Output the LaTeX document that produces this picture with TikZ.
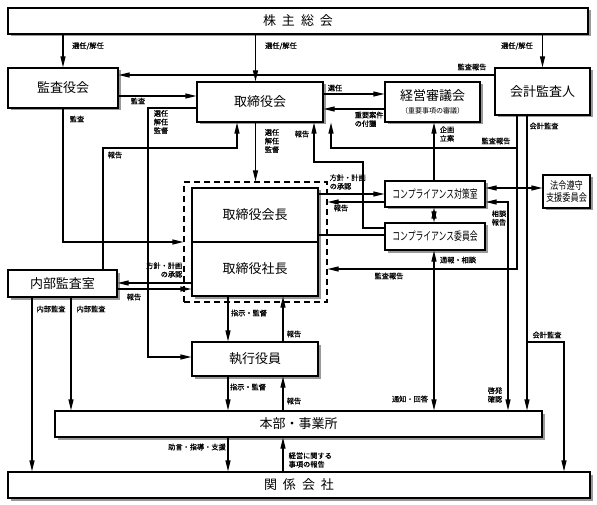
\documentclass[tikz,border=0pt]{standalone}
\usepackage{fontspec}
\setmainfont{Noto Sans CJK JP}
\newfontfamily\narrowjp[FakeStretch=0.68]{Noto Sans CJK JP}
\newfontfamily\narrowjpb[FakeStretch=0.78]{Noto Sans CJK JP}
\newfontfamily\lbljp[FakeBold=0.6]{Noto Sans CJK JP}
\usetikzlibrary{arrows.meta,shadows}

\tikzset{
  box/.style={draw, line width=1.1pt, fill=white, inner sep=0pt, align=center,
    font=\fontsize{13}{15}\selectfont,
    drop shadow={shadow xshift=2.5pt, shadow yshift=-2.5pt, fill=black!40, opacity=1}},
  lbl/.style={font=\lbljp\fontsize{7.2}{8.6}\selectfont, inner sep=0.5pt, align=center},
  conn/.style={line width=1.1pt},
  arr/.style={conn, -{Triangle[length=11pt,width=5pt]}},
  darr/.style={conn, {Triangle[length=11pt,width=5pt]}-{Triangle[length=11pt,width=5pt]}},
}

\begin{document}
\begin{tikzpicture}[x=1pt, y=-1pt]
\useasboundingbox (0,0) rectangle (597,505);

\node [draw, line width=1.1pt, dash pattern=on 6pt off 4pt, minimum width=143pt, minimum height=120pt] (tops) at (255.5,242) {};

\node [box, minimum width=580pt, minimum height=26pt] (kabu) at (298,21) {株\hspace{6pt}主\hspace{6pt}総\hspace{6pt}会};
\node [box, minimum width=110pt, minimum height=40pt] (kansa) at (63,88) {監査役会};
\node [box, minimum width=126pt, minimum height=40pt] (torikai) at (260,102) {取締役会};
\node [box, minimum width=95pt, minimum height=40pt] (shingi) at (432.5,102) {経営審議会\\[-2pt]{\fontsize{7}{8}\selectfont （重要事項の審議）}};
\node [box, minimum width=95pt, minimum height=47pt] (kaikei) at (542.5,91.5) {会計監査人};
\node [box, minimum width=126pt, minimum height=54pt] (kaicho) at (255,215) {取締役会長};
\node [box, minimum width=126pt, minimum height=54pt] (shacho) at (255,269) {取締役社長};
\node [box, font=\narrowjp\fontsize{11.5}{13}\selectfont, minimum width=100pt, minimum height=26pt] (taisaku) at (435,194) {コンプライアンス対策室};
\node [box, font=\narrowjp\fontsize{11.5}{13}\selectfont, minimum width=100pt, minimum height=27pt] (iinkai) at (435,236.5) {コンプライアンス委員会};
\node [box, font=\narrowjpb\fontsize{10.5}{12.5}\selectfont, minimum width=47pt, minimum height=33pt] (hourei) at (566.5,191.5) {法令遵守\\支援委員会};
\node [box, minimum width=109pt, minimum height=27pt] (naibu) at (62.5,283.5) {内部監査室};
\node [box, minimum width=126pt, minimum height=34pt] (shikkou) at (255,359) {執行役員};
\node [box, minimum width=487pt, minimum height=26pt] (honbu) at (298.5,424) {本部・事業所};
\node [box, minimum width=582pt, minimum height=26pt] (kankei) at (299,485) {関\hspace{6pt}係\hspace{6pt}会\hspace{6pt}社};

\coordinate (b2) at (0,75);
\coordinate (b3) at (0,96);
\coordinate (b4) at (0,94);
\coordinate (b5) at (0,109);
\coordinate (b6) at (148,108);
\coordinate (b7) at (148,357);
\coordinate (b8) at (103,148);
\coordinate (b9) at (237,148);
\coordinate (b10) at (363,228);
\coordinate (b11) at (363,162);
\coordinate (b12) at (314,162);
\coordinate (b13) at (517,148);
\coordinate (b14) at (331,148);
\coordinate (b15) at (517,269);
\coordinate (b16) at (527,342);
\coordinate (b17) at (564,342);
\coordinate (b18) at (434,0);
\coordinate (b19) at (0,202);
\coordinate (b20) at (0,235);
\coordinate (b21) at (0,188);
\coordinate (b22) at (508,202);
\coordinate (b23) at (0,283);
\coordinate (b24) at (0,289);
\coordinate (b25) at (32,0);
\coordinate (b26) at (71,0);
\coordinate (b27) at (228,0);
\coordinate (b28) at (283,0);

\draw [arr] (kabu.south -| kansa.north) -- (kansa.north);
\draw [arr] (kabu.south -| tops.north) -- (torikai.north -| tops.north);
\draw [arr] (kabu.south -| kaikei.north) -- (kaikei.north);
\draw [arr] (kaikei.west |- b2) -- (kansa.east |- b2);
\draw [arr] (kansa.east |- b3) -- (torikai.west |- b3);
\draw [arr] (kansa.south) |- (tops.west);
\draw [arr] (torikai.east |- b4) -- (shingi.west |- b4);
\draw [arr] (shingi.west |- b5) -- (torikai.east |- b5);
\draw [arr] (torikai.south -| tops.north) -- (tops.north);
\draw [arr] (torikai.west |- b6) -- (b6) -- (b7) -- (shikkou.west |- b7);
\draw [arr] (naibu.north -| b8) -- (b8) -- (b9) -- (torikai.south -| b9);
\draw [arr] (iinkai.west |- b10) -- (b10) -- (b11) -- (b12) -- (torikai.south -| b12);
\draw [arr] (kaikei.south -| b13) -- (b15) -- (tops.east |- b15);
\draw [arr] (b13) -- (b14) -- (torikai.south -| b14);
\draw [arr] (kaikei.south -| b16) -- (honbu.north -| b16);
\draw [arr] (b16) -- (b17) -- (kankei.north -| b17);
\draw [arr] (taisaku.north -| b18) -- (shingi.south -| b18);
\draw [darr] (taisaku.south -| b18) -- (iinkai.north -| b18);
\draw [darr] (iinkai.south -| b18) -- (honbu.north -| b18);
\draw [arr] (kaicho.east |- taisaku.west) -- (taisaku.west);
\draw [arr] (taisaku.west |- b19) -- (tops.east |- b19);
\draw [conn] (iinkai.west |- b20) -- (kaicho.east |- b20);
\draw [darr] (taisaku.east |- b21) -- (hourei.west |- b21);
\draw [darr] (taisaku.east |- b22) -- (b22) -- (honbu.north -| b22);
\draw [arr] (shacho.west |- b23) -- (naibu.east |- b23);
\draw [arr] (naibu.east |- b24) -- (shacho.west |- b24);
\draw [arr] (naibu.south -| b25) -- (kankei.north -| b25);
\draw [arr] (naibu.south -| b26) -- (honbu.north -| b26);
\draw [arr] (shacho.south -| b27) -- (shikkou.north -| b27);
\draw [arr] (shikkou.north -| b28) -- (shacho.south -| b28);
\draw [arr] (shikkou.south -| b27) -- (honbu.north -| b27);
\draw [arr] (honbu.north -| b28) -- (shikkou.south -| b28);
\draw [arr] (honbu.south -| b27) -- (kankei.north -| b27);
\draw [arr] (kankei.north -| b28) -- (honbu.south -| b28);

\node [lbl] (l1) at (88,46) {選任/解任};
\node [lbl] (l2) at (281,46) {選任/解任};
\node [lbl] (l3) at (517,46) {選任/解任};
\node [lbl] (l4) at (472,67) {監査報告};
\node [lbl] (l5) at (138,101) {監査};
\node [lbl] (l6) at (77,119) {監査};
\node [lbl] (l7) at (335,88) {選任};
\node [lbl, anchor=north west, align=left] (l8) at (354,111) {重要案件\\の付議};
\node [lbl] (l9) at (272,141) {選任\\解任\\監督};
\node [lbl] (l10) at (161,122) {選任\\解任\\監督};
\node [lbl] (l11) at (115,155) {報告};
\node [lbl] (l12) at (302,134) {報告};
\node [lbl] (l13) at (496,141) {監査報告};
\node [lbl] (l14) at (389,276) {監査報告};
\node [lbl] (l15) at (544,126) {会計監査};
\node [lbl] (l16) at (547,335) {会計監査};
\node [lbl] (l17) at (447,134) {企画\\立案};
\node [lbl, anchor=west, align=left] (l18) at (329,182) {方針・計画\\の承認};
\node [lbl] (l19) at (341,208) {報告};
\node [lbl] (l20) at (499,218) {相談\\報告};
\node [lbl] (l21) at (495,395) {啓発\\確認};
\node [lbl] (l22) at (458,260) {通報・相談};
\node [lbl] (l23) at (410,399) {通知・回答};
\node [lbl, anchor=east, align=right] (l24) at (183,270) {方針・計画\\の承認};
\node [lbl] (l25) at (134,297) {報告};
\node [lbl] (l26) at (51,309) {内部監査};
\node [lbl] (l27) at (91,309) {内部監査};
\node [lbl] (l28) at (249,313) {指示・監督};
\node [lbl] (l29) at (294,334) {報告};
\node [lbl] (l30) at (248,387) {指示・監督};
\node [lbl] (l31) at (294,401) {報告};
\node [lbl] (l32) at (197,447) {助言・指導・支援};
\node [lbl, anchor=west, align=left] (l33) at (288,460) {経営に関する\\事項の報告};
\end{tikzpicture}
\end{document}
